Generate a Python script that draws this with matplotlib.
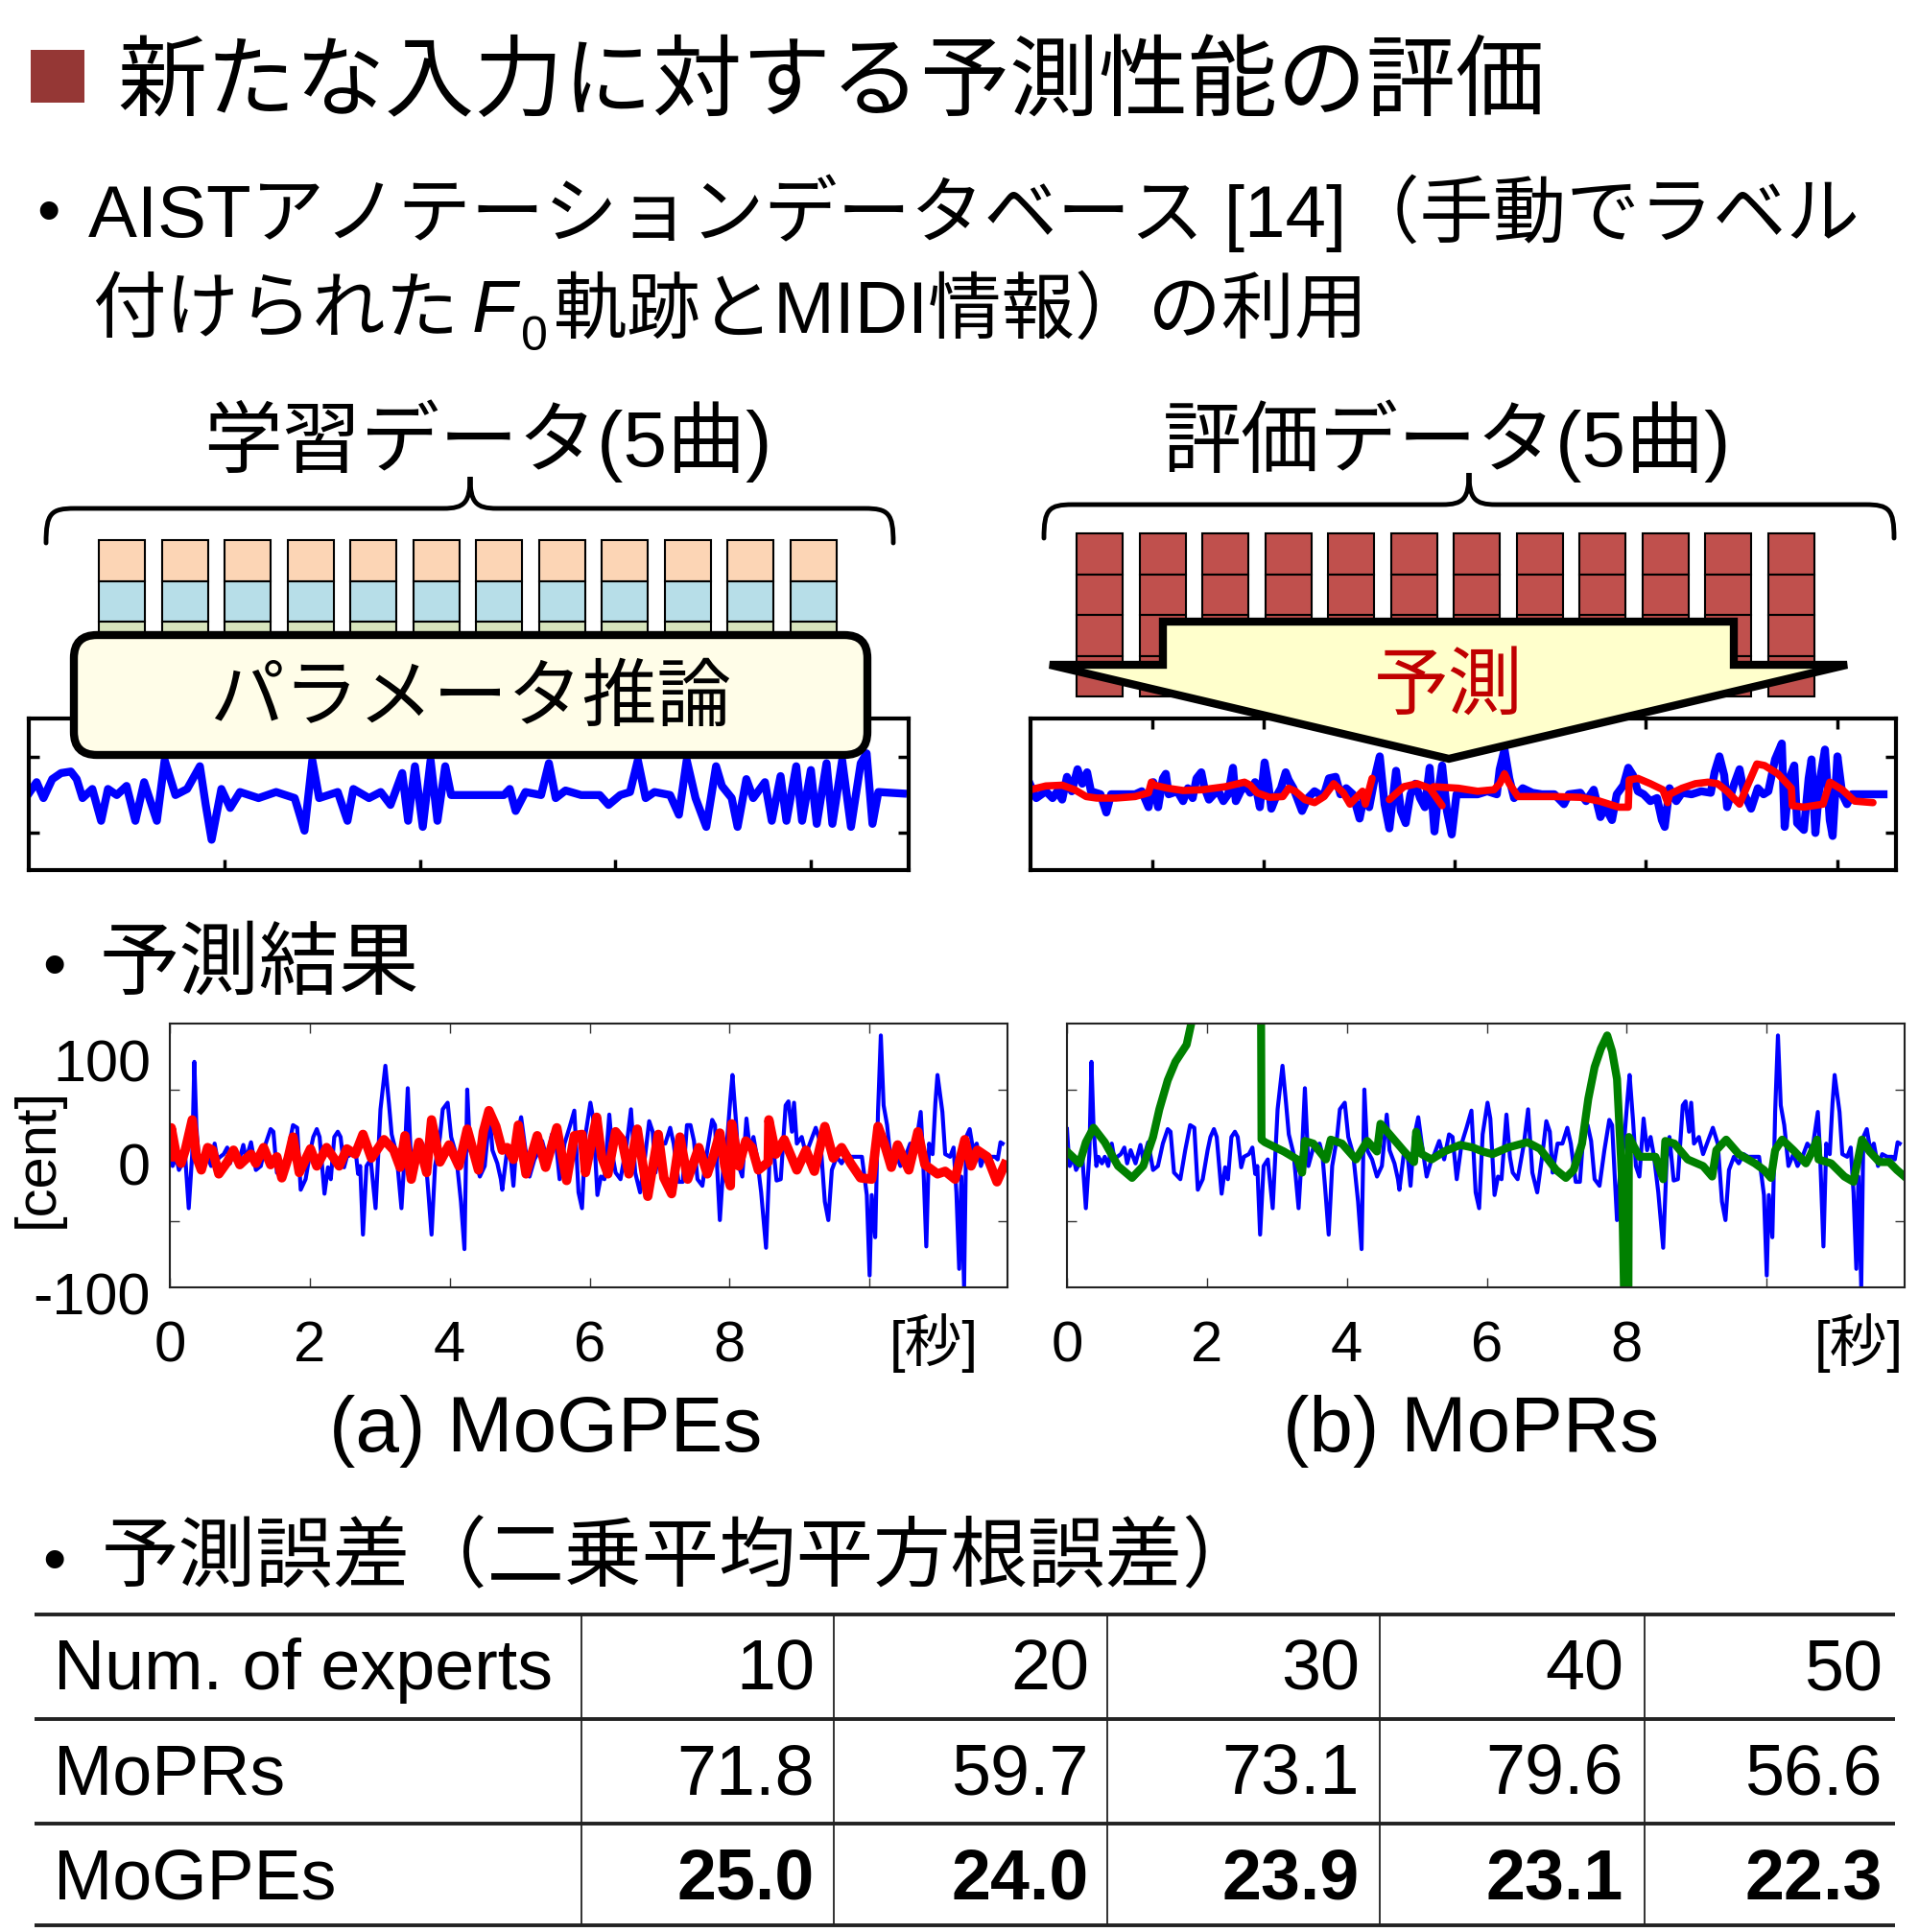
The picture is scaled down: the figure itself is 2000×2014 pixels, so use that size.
import numpy as np
import matplotlib
matplotlib.use("Agg")
from matplotlib import pyplot as plt
from matplotlib.patches import Rectangle, FancyBboxPatch, Polygon, PathPatch
from matplotlib.path import Path

plt.rcParams['font.family'] = ['Liberation Sans', 'Noto Sans CJK JP']

W, H = 2000, 2015

# ---------------- data (time [s], F0 deviation [cent]) ----------------
truth = [(0.00, 20), (0.02, 4), (0.04, -8), (0.09, -1), (0.13, -11), (0.18, -6), (0.22, -1), (0.27, -40),
         (0.32, 1), (0.35, 71), (0.38, 21), (0.42, -8), (0.45, -1), (0.50, -6), (0.54, -1), (0.59, -8),
         (0.64, 9), (0.68, -3), (0.72, -1), (0.77, 1), (0.82, 6), (0.86, -6), (0.91, 4), (0.98, -6),
         (1.05, 8), (1.09, -3), (1.16, 10), (1.23, -11), (1.30, -8), (1.37, 9), (1.44, 20), (1.48, 18),
         (1.53, -13), (1.62, -18), (1.69, 4), (1.76, 23), (1.82, 21), (1.87, -26), (1.94, -18), (2.01, 4),
         (2.05, 14), (2.10, 20), (2.14, 14), (2.21, -29), (2.26, -9), (2.30, -18), (2.35, 14), (2.40, 18),
         (2.44, 14), (2.49, -9), (2.53, -1), (2.60, 1), (2.65, 6), (2.69, -14), (2.72, -8), (2.76, -60),
         (2.81, -8), (2.87, -3), (2.94, -40), (3.01, 35), (3.08, 68), (3.13, 40), (3.17, 16), (3.24, 1),
         (3.31, -40), (3.36, 4), (3.40, 51), (3.45, -8), (3.52, 6), (3.61, 9), (3.65, 1), (3.69, -25),
         (3.74, -60), (3.79, -8), (3.86, 14), (3.90, 35), (3.97, 40), (4.02, 14), (4.09, 1), (4.16, -35),
         (4.21, -71), (4.25, 50), (4.29, 4), (4.36, -3), (4.43, -16), (4.50, -8), (4.57, 31), (4.61, 4),
         (4.68, -6), (4.73, -18), (4.75, -26), (4.82, 4), (4.87, -1), (4.91, -23), (4.96, 14), (5.02, 29),
         (5.07, 9), (5.14, -16), (5.21, -3), (5.25, 1), (5.32, 11), (5.39, -3), (5.46, 16), (5.51, 14),
         (5.57, -18), (5.64, 9), (5.71, 21), (5.78, 34), (5.84, -28), (5.89, -40),
         (5.94, 16), (6.01, 40), (6.05, 28), (6.11, -30), (6.16, -16), (6.21, -18), (6.28, 31), (6.33, -1),
         (6.37, -13), (6.44, -18), (6.49, -3), (6.53, 9), (6.59, 35), (6.65, -13), (6.72, -28), (6.79, -1),
         (6.85, 26), (6.90, 18), (6.94, -13), (7.01, 9), (7.08, 9), (7.15, 21), (7.20, 9), (7.27, -20),
         (7.33, -20), (7.39, 23), (7.44, 23), (7.49, 11), (7.54, -18), (7.61, -23), (7.68, 4), (7.75, 27),
         (7.79, 23), (7.86, -49), (7.91, -8), (7.96, 9), (8.01, 43), (8.04, 61), (8.09, 26), (8.13, -8),
         (8.18, -16), (8.24, 28), (8.29, 4), (8.34, 14), (8.39, -1), (8.45, -28), (8.52, -70), (8.57, -3),
         (8.61, 14), (8.67, -19), (8.73, -18), (8.80, 38), (8.84, 41), (8.89, 18), (8.92, 40), (8.96, 9),
         (9.03, 14), (9.09, 1), (9.16, 11), (9.23, 21), (9.30, 9), (9.36, -35), (9.41, -49), (9.46, -11),
         (9.53, -1), (9.60, -6), (9.67, 1), (9.73, -1), (9.83, -1), (9.89, -1), (9.96, -30), (10.00, -91),
         (10.03, -30), (10.08, -62), (10.12, 33), (10.16, 91), (10.20, 38), (10.25, 23), (10.31, -8),
         (10.38, 1), (10.44, -8), (10.51, -1), (10.58, 9), (10.65, 4), (10.73, 33), (10.76, 4), (10.81, -69),
         (10.85, 9), (10.90, 1), (10.94, 40), (10.97, 61), (11.04, 33), (11.08, 1), (11.15, -1), (11.20, 6),
         (11.24, -28), (11.28, -86), (11.31, -16), (11.35, -100), (11.38, 14), (11.43, 20), (11.48, 4),
         (11.53, 9), (11.59, -8), (11.65, 1), (11.72, -1), (11.79, -1), (11.83, -3), (11.87, 10), (11.90, 9)]

mogpe_pred = [(0.00, -1), (0.02, 21), (0.09, 1), (0.16, -6), (0.22, 4), (0.32, 27), (0.38, -1), (0.45, -11),
              (0.54, 6), (0.61, 4), (0.70, -14), (0.82, -5), (0.91, 4), (1.00, -7), (1.16, 1), (1.23, -6),
              (1.34, 6), (1.44, -7), (1.53, -1), (1.60, -17), (1.69, -2), (1.76, 14), (1.85, -13), (2.01, 5),
              (2.10, -8), (2.24, 6), (2.42, -8), (2.53, 5), (2.65, 1), (2.76, 16), (2.88, -2), (3.06, 12),
              (3.20, 4), (3.29, -9), (3.36, 15), (3.45, -18), (3.56, 10), (3.67, -13), (3.74, 27), (3.86, -5),
              (3.99, 8), (4.13, -8), (4.25, 20), (4.41, -11), (4.48, 18), (4.56, 34), (4.66, 22), (4.75, 4),
              (4.82, 6), (4.91, -3), (4.98, 23), (5.09, -14), (5.25, 15), (5.37, -9), (5.53, 21), (5.67, -19),
              (5.78, 15), (5.89, 16), (5.94, -13), (6.03, 11), (6.10, 29), (6.17, -1), (6.26, -14), (6.37, 18),
              (6.46, 12), (6.56, -14), (6.68, 20), (6.83, -31), (6.98, 16), (7.06, -17), (7.17, -29), (7.29, 14),
              (7.40, -18), (7.56, 6), (7.68, -14), (7.77, 0), (7.86, 17), (7.93, -8), (8.01, -23), (8.03, 24),
              (8.13, -8), (8.23, 11), (8.32, 6), (8.41, -11), (8.55, -5), (8.56, 27), (8.66, 1), (8.78, 12),
              (8.96, -11), (9.09, 4), (9.21, -12), (9.36, 22), (9.48, -2), (9.60, 6), (9.73, -6), (9.87, -17),
              (10.03, -18), (10.12, 22), (10.21, 9), (10.31, -9), (10.40, 8), (10.56, -11), (10.69, 18),
              (10.79, -7), (10.97, -14), (11.08, -12), (11.22, -18), (11.36, 12), (11.45, -8), (11.54, 4),
              (11.68, -1), (11.82, -20), (11.93, -7)]

mopr_pred = [(0.00, 3), (0.18, -6), (0.27, 10), (0.38, 21), (0.54, 10), (0.73, -8), (0.93, -17), (1.09, -8),
             (1.23, 14), (1.32, 35), (1.44, 57), (1.55, 71), (1.71, 84), (1.78, 101), (1.85, 125), (2.77, 160),
             (2.78, 12), (2.83, 10), (3.10, 3), (3.29, -3), (3.36, -13), (3.40, 11), (3.52, 9), (3.70, -3),
             (3.77, 12), (3.93, 9), (4.13, -3), (4.29, 11), (4.43, 3), (4.48, 24), (4.61, 16), (4.82, 3),
             (4.96, -5), (4.99, 18), (5.07, 1), (5.21, -3), (5.39, 3), (5.62, 8), (5.80, 6), (5.94, 3),
             (6.08, 1), (6.30, 6), (6.58, 10), (6.76, 5), (6.99, -11), (7.13, -17), (7.24, -11), (7.36, 9),
             (7.45, 43), (7.54, 67), (7.63, 81), (7.72, 91), (7.79, 79), (7.86, 58), (7.93, -16), (7.98, -160),
             (8.02, -160), (8.03, 14), (8.18, -1), (8.41, -1), (8.52, -18), (8.55, 11), (8.68, 9), (8.87, -3),
             (9.09, -8), (9.22, -16), (9.28, 4), (9.42, 12), (9.60, 1), (9.83, -6), (9.96, -11), (10.06, -17),
             (10.12, 4), (10.22, 12), (10.38, 4), (10.56, -6), (10.63, 1), (10.72, 12), (10.74, -3), (10.92, -6),
             (11.11, -16), (11.24, -20), (11.36, 12), (11.47, 3), (11.61, -5), (11.75, -5), (11.86, -11),
             (11.97, -16)]

train_f0 = [(0.00, 1), (0.08, 16), (0.15, -5), (0.24, 20), (0.33, 28), (0.43, 30), (0.49, 20), (0.55, -5),
            (0.65, 7), (0.74, -35), (0.81, 7), (0.90, -1), (1.00, 11), (1.09, -35), (1.18, 16), (1.31, -35),
            (1.39, 45), (1.50, -1), (1.62, 7), (1.75, 37), (1.81, -14), (1.87, -60), (1.97, 7), (2.06, -18),
            (2.16, 3), (2.35, -5), (2.53, 3), (2.72, -5), (2.82, -48), (2.90, 45), (2.97, -5), (3.16, 3),
            (3.26, -35), (3.32, 7), (3.48, -5), (3.60, 3), (3.70, -14), (3.82, 28), (3.88, -35), (3.95, 37),
            (4.03, -43), (4.11, 45), (4.18, -35), (4.26, 37), (4.32, -1), (4.86, -1), (4.92, 7), (4.98, -22),
            (5.08, 3), (5.24, -1), (5.32, 41), (5.39, -5), (5.49, 5), (5.65, -1), (5.84, -1), (5.93, -14),
            (6.05, -1), (6.15, 3), (6.23, 45), (6.31, -5), (6.40, 3), (6.56, -1), (6.65, -27), (6.73, 45),
            (6.82, -5), (6.93, -43), (7.03, 37), (7.09, 11), (7.19, -5), (7.25, -43), (7.34, 20), (7.41, -5),
            (7.53, 16), (7.60, -35), (7.69, 24), (7.75, -35), (7.85, 37), (7.91, -35), (8.00, 32), (8.06, -39),
            (8.16, 41), (8.22, -39), (8.32, 45), (8.41, -43), (8.51, 41), (8.57, 54), (8.63, -39), (8.69, 3),
            (8.94, 1)]

eval_f0 = [(0.00, 12), (0.06, -5), (0.16, 4), (0.23, -5), (0.28, 4), (0.33, -7), (0.38, 23), (0.43, 4),
           (0.49, 33), (0.54, 14), (0.59, 29), (0.63, 4), (0.73, 0), (0.79, -24), (0.84, 0), (0.96, 0),
           (1.09, 0), (1.16, 4), (1.23, -17), (1.28, 16), (1.33, -17), (1.38, 21), (1.41, 27), (1.44, 0),
           (1.53, 4), (1.59, -9), (1.64, 8), (1.69, -5), (1.73, 21), (1.78, 29), (1.81, 10), (1.86, -7),
           (1.91, 0), (1.96, 4), (2.01, -9), (2.06, 0), (2.11, 35), (2.14, -9), (2.19, 4), (2.24, 12),
           (2.29, 2), (2.34, 16), (2.39, -17), (2.44, 42), (2.48, 12), (2.51, -19), (2.56, -3), (2.61, 8),
           (2.66, 29), (2.69, 19), (2.74, 8), (2.83, -22), (2.89, -5), (2.96, 4), (3.01, 0), (3.06, 0),
           (3.11, 21), (3.18, 23), (3.23, 0), (3.29, 8), (3.36, 0), (3.43, -32), (3.48, 0), (3.53, -17),
           (3.59, 23), (3.64, 50), (3.69, -13), (3.74, -45), (3.81, 31), (3.86, -22), (3.91, -38), (3.96, 0),
           (4.01, 14), (4.06, -5), (4.11, -17), (4.16, 35), (4.21, -49), (4.26, 12), (4.29, 38), (4.34, -22),
           (4.39, -53), (4.44, 0), (4.56, 0), (4.66, 0), (4.76, 4), (4.86, 0), (4.89, 33), (4.94, 59),
           (4.99, 21), (5.04, -5), (5.13, 8), (5.23, 2), (5.33, 0), (5.46, 0), (5.56, -13), (5.61, 0),
           (5.73, 2), (5.79, -9), (5.87, 6), (5.94, -30), (5.99, -17), (6.06, -34), (6.11, 0), (6.18, 12),
           (6.23, 35), (6.28, 25), (6.33, 4), (6.39, 0), (6.46, -9), (6.53, -5), (6.58, -34), (6.61, -43),
           (6.66, 8), (6.73, -9), (6.79, 2), (6.89, 0), (6.99, 4), (7.09, 2), (7.13, 29), (7.18, 50),
           (7.23, 25), (7.26, -17), (7.33, 12), (7.39, 33), (7.44, 0), (7.51, -19), (7.58, 8), (7.64, 0),
           (7.69, 4), (7.76, 46), (7.83, 67), (7.86, -43), (7.91, 21), (7.96, 38), (7.99, -38), (8.06, -47),
           (8.11, 21), (8.14, 46), (8.18, -51), (8.23, 21), (8.28, 59), (8.33, -34), (8.36, -55), (8.41, 50),
           (8.46, 0), (8.51, -13), (8.56, 0), (8.73, 0), (8.89, 0)]

eval_pred = [(0.00, 6), (0.16, 11), (0.33, 12), (0.46, 6), (0.58, -3), (0.69, -5), (0.89, -5), (1.09, -3),
             (1.23, 2), (1.26, 16), (1.29, 12), (1.43, 8), (1.59, 5), (1.79, 6), (2.03, 10), (2.23, 16),
             (2.29, 12), (2.36, 2), (2.49, -4), (2.63, -3), (2.69, 8), (2.76, 4), (2.86, -7), (2.96, -11),
             (3.06, -3), (3.16, 14), (3.26, 2), (3.33, -13), (3.39, -5), (3.46, 4), (3.49, -13), (3.56, 21),
             (np.nan, np.nan), (3.74, -7), (3.89, 10), (4.03, 14), (4.16, 8), (4.29, -15), (np.nan, np.nan),
             (4.20, 10), (4.46, 8), (4.66, 4), (4.83, 6), (4.89, 14), (4.94, 27), (4.99, 14), (5.08, -3),
             (5.23, -3), (5.46, -3), (5.73, -4), (5.93, -9), (6.13, -17), (6.23, -17), (6.24, 19), (6.33, 21),
             (6.46, 14), (6.59, 6), (6.64, -11), (6.66, 0), (6.79, 8), (6.93, 14), (7.06, 16), (7.16, 14),
             (7.26, 4), (7.39, -13), (7.46, 8), (7.57, 40), (7.65, 38), (7.79, 27), (7.93, 8), (7.94, -15),
             (8.06, -17), (8.26, -13), (8.33, 16), (8.46, 6), (8.59, -9), (8.78, -11)]

experts = [10, 20, 30, 40, 50]
rmse_mopr = [71.8, 59.7, 73.1, 79.6, 56.6]
rmse_mogpe = [25.0, 24.0, 23.9, 23.1, 22.3]


def split(pairs):
    t, v = zip(*pairs)
    return np.array(t, float), np.array(v, float)


def px_axes(x0, y0, x1, y1, **kw):
    return fig.add_axes([x0 / W, 1 - y1 / H, (x1 - x0) / W, (y1 - y0) / H], **kw)


def brace(ax, x0, x1, xm, y_end, y_line, y_peak, lw=3.5):
    r, rm = 30, 28
    verts = [(x0, y_end), (x0, y_line + 5), (x0 + 5, y_line), (x0 + r, y_line),
             (xm - rm, y_line),
             (xm - 6, y_line), (xm, y_line - 6), (xm, y_peak),
             (xm, y_line - 6), (xm + 6, y_line), (xm + rm, y_line),
             (x1 - r, y_line),
             (x1 - 5, y_line), (x1, y_line + 5), (x1, y_end)]
    codes = [Path.MOVETO, Path.CURVE4, Path.CURVE4, Path.CURVE4, Path.LINETO,
             Path.CURVE4, Path.CURVE4, Path.CURVE4, Path.CURVE4, Path.CURVE4, Path.CURVE4,
             Path.LINETO, Path.CURVE4, Path.CURVE4, Path.CURVE4]
    ax.add_patch(PathPatch(Path(verts, codes), fc='none', ec='black', lw=lw, capstyle='round'))


fig = plt.figure(figsize=(20, 20.15), dpi=100)

# ---------- small signal plots at the top ----------
ax_tr = px_axes(30, 750, 947, 908)
t, v = split(train_f0)
ax_tr.plot(t, v, color='#0000FF', lw=6, solid_joinstyle='round')
ax_tr.set_xlim(0, 9)
ax_tr.set_ylim(-100, 100)
ax_tr.set_xticks([2, 4, 6, 8])
ax_tr.set_yticks([-50, 50])

ax_ev = px_axes(1074, 750, 1976, 908)
t, v = split(eval_f0)
ax_ev.plot(t, v, color='#0000FF', lw=6, solid_joinstyle='round')
t, v = split(eval_pred)
ax_ev.plot(t, v, color='#FF0000', lw=5.5, solid_joinstyle='round', solid_capstyle='round')
ax_ev.set_xlim(0, 9.02)
ax_ev.set_ylim(-100, 100)
ax_ev.set_xticks([1.27, 2.43, 4.42, 6.41, 8.41])
ax_ev.set_yticks([-50, 50])

for ax, left in ((ax_tr, True), (ax_ev, False)):
    ax.tick_params(direction='in', length=8, width=2.5, top=True, bottom=True,
                   left=left, right=True, labelbottom=False, labelleft=False)
    for s in ax.spines.values():
        s.set_linewidth(3)

# ---------- result plots ----------
panels = [(177, 1050, mogpe_pred, '#FF0000', 7, '(a) MoGPEs'),
          (1112, 1985, mopr_pred, '#008000', 6, '(b) MoPRs')]
res_axes = []
for x0, x1, pred, col, lw, title in panels:
    ax = px_axes(x0, 1068, x1, 1343)
    t, v = split(truth)
    ax.plot(t, v, color='#0000FF', lw=3, solid_joinstyle='round')
    t, v = split(pred)
    ax.plot(t, v, color=col, lw=lw, solid_joinstyle='round')
    ax.set_xlim(0, 11.97)
    ax.set_ylim(-100, 100)
    ax.set_xticks([0, 2, 4, 6, 8, 10])
    ax.set_xticklabels(['0', '2', '4', '6', '8', ''])
    ax.set_yticks([-50, 50])
    ax.tick_params(direction='in', length=7, width=1, top=True, right=True,
                   labelleft=False, labelsize=43, pad=24, color='#333333')
    for s in ax.spines.values():
        s.set_linewidth(1.5)
        s.set_color('#222222')
    res_axes.append((ax, title))

# ---------- decoration layer (pixel coordinates) ----------
deco = fig.add_axes([0, 0, 1, 1], zorder=10)
deco.set_xlim(0, W)
deco.set_ylim(H, 0)
deco.axis('off')
deco.patch.set_alpha(0)

deco.add_patch(Rectangle((32, 53), 56, 55, fc='#953735', ec='none'))
deco.text(122, 90, '新たな入力に対する予測性能の評価', fontsize=67, va='center', ha='left')

deco.text(38, 224, '•', fontsize=50, va='center', ha='left')
deco.text(92, 222, 'AISTアノテーションデータベース [14]（手動でラベル', fontsize=55, va='center', ha='left')
deco.text(96, 326, '付けられた', fontsize=55, va='center', ha='left')
deco.text(492, 326, 'F', fontsize=55, va='center', ha='left', style='italic')
deco.text(543, 352, '0', fontsize=36, va='center', ha='left')
deco.text(577, 326, '軌跡とMIDI情報）の利用', fontsize=55, va='center', ha='left')

deco.text(508, 460, '学習データ(5曲)', fontsize=59, va='center', ha='center')
deco.text(1508, 460, '評価データ(5曲)', fontsize=59, va='center', ha='center')
brace(deco, 48, 931, 490, 567, 531, 498)
brace(deco, 1088, 1974, 1531, 562, 527, 494)

# training data blocks
for i in range(12):
    x = 103 + i * 65.5
    for y0, y1, c in ((564, 607, '#FCD5B5'), (607, 649, '#B7DEE8'), (649, 675, '#D7E4BD')):
        deco.add_patch(Rectangle((x, y0), 48, y1 - y0, fc=c, ec='black', lw=1.5))
deco.add_patch(FancyBboxPatch((77, 663), 827, 125, boxstyle='round,pad=0,rounding_size=24',
                              fc='#FFFDE8', ec='black', lw=6))
deco.text(490, 730, 'パラメータ推論', fontsize=56, va='center', ha='center')

# evaluation data blocks
for i in range(12):
    x = 1122 + i * 65.5
    for y0, y1 in ((557, 600), (600, 642), (642, 685), (685, 727)):
        deco.add_patch(Rectangle((x, y0), 48, y1 - y0, fc='#C0504D', ec='black', lw=1.5))
arrow = [(1212, 649), (1807, 649), (1807, 694), (1925, 694), (1510, 792), (1094, 694), (1212, 694)]
deco.add_patch(Polygon(arrow, closed=True, fc='#FFFFCC', ec='black', lw=6, joinstyle='miter'))
deco.text(1510, 718, '予測', fontsize=56, va='center', ha='center', color='#C00000')

deco.text(44, 1010, '•', fontsize=50, va='center', ha='left')
deco.text(104, 1008, '予測結果', fontsize=60, va='center', ha='left')

# result plot labels
deco.text(157, 1112, '100', fontsize=44, va='center', ha='right')
deco.text(157, 1220, '0', fontsize=44, va='center', ha='right')
deco.text(157, 1355, '-100', fontsize=44, va='center', ha='right')
deco.text(39, 1207, '[cent]', fontsize=43, va='center', ha='center', rotation=90)
for (ax, title), xs, xc in zip(res_axes, (973, 1937), (569, 1533)):
    deco.text(xs, 1400, '[秒]', fontsize=43, va='center', ha='center')
    deco.text(xc, 1492, title, fontsize=59, va='center', ha='center')

# ---------- RMSE table ----------
deco.text(44, 1630, '•', fontsize=50, va='center', ha='left')
deco.text(106, 1627, '予測誤差（二乗平均平方根誤差）', fontsize=58, va='center', ha='left')

row_lines = [1684, 1793, 1902, 2008]
col_lines = [606, 869, 1154, 1438, 1714]
col_right = [849, 1135, 1417, 1692, 1962]
row_mid = [1742, 1851, 1960]
for y in row_lines:
    deco.plot([36, 1975], [y, y], color='#222222', lw=2.8, solid_capstyle='butt')
for x in col_lines:
    deco.plot([x, x], [row_lines[0], row_lines[-1]], color='#222222', lw=1.3)

rows = [('Num. of experts', [str(e) for e in experts], 'normal'),
        ('MoPRs', ['%.1f' % r for r in rmse_mopr], 'normal'),
        ('MoGPEs', ['%.1f' % r for r in rmse_mogpe], 'bold')]
for y, (name, vals, weight) in zip(row_mid, rows):
    deco.text(56, y, name, fontsize=53, va='center', ha='left')
    for x, s in zip(col_right, vals):
        deco.text(x, y, s, fontsize=53, va='center', ha='right', fontweight=weight)

fig.savefig('out.png', dpi=100)
